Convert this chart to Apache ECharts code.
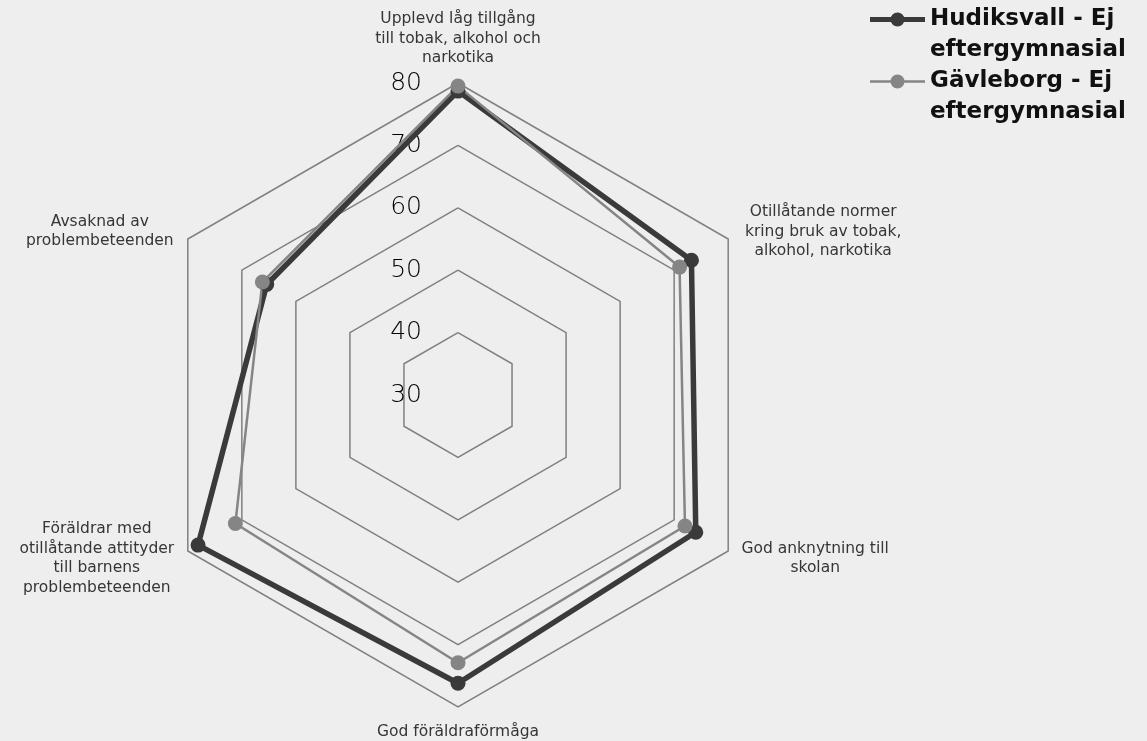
<!DOCTYPE html>
<html>
<head>
<meta charset="utf-8">
<script src="https://cdn.jsdelivr.net/npm/echarts@6/dist/echarts.min.js"></script>
<style>
html, body { margin: 0; padding: 0; background: #eeeeee; }
#radar { width: 1147px; height: 741px; }
</style>
</head>
<body>
<div id="radar"></div>
<script>
// categories, clockwise from the top (as in the picture)
const categories = [
    'Upplevd låg tillgång\ntill tobak, alkohol och\nnarkotika',
    'Otillåtande normer\nkring bruk av tobak,\nalkohol, narkotika',
    'God anknytning till\nskolan',
    'God föräldraförmåga',
    'Föräldrar med\notillåtande attityder\ntill barnens\nproblembeteenden',
    'Avsaknad av\nproblembeteenden'
];
const seriesNames = ['Hudiksvall - Ej eftergymnasial', 'Gävleborg - Ej eftergymnasial'];
const hudiksvall = [78.7, 73.2, 74.0, 76.2, 78.1, 65.4];
const gavleborg  = [79.5, 71.0, 72.0, 72.9, 71.2, 66.2];
const tickLabels = [30, 40, 50, 60, 70, 80];

// echarts lays out radar axes counterclockwise, the picture goes clockwise
const order = [0, 5, 4, 3, 2, 1];
const nameWidths = [0, 164, 148, 0, 156, 150];
const font = 'DejaVu Sans';

let rich = {};
let indicator = order.map(i => {
    let key = 'n' + i;
    rich[key] = {
        fontFamily: font,
        fontSize: 15.5,
        lineHeight: 19.5,
        color: '#363636',
        align: 'center'
    };
    if (nameWidths[i]) rich[key].width = nameWidths[i];
    let ind = {
        name: categories[i].split('\n').map(l => '{' + key + '|' + l + '}').join('\n'),
        min: tickLabels[0],
        max: tickLabels[tickLabels.length - 1]
    };
    if (i === 0) ind.axisLabel = {show: true};
    return ind;
});

// line with a dot in the middle, for the legend
function legendIcon(lineH) {
    let a = 7 - lineH / 2, b = 7 + lineH / 2;
    return 'path://M0,' + a + 'L21,' + a + 'L21,' + b + 'L0,' + b + 'Z' +
        'M34,' + a + 'L55,' + a + 'L55,' + b + 'L34,' + b + 'Z' +
        'M20.5,7A7,7 0 1,1 34.5,7A7,7 0 1,1 20.5,7Z';
}

window.radarChart = echarts.init(document.getElementById('radar'));

function legendFor(name, top, lineH) {
    return {
        data: [{name: name, icon: legendIcon(lineH)}],
        left: 870,
        top: top,
        itemWidth: 55,
        itemHeight: 14,
        itemGap: 0,
        padding: 0,
        // empty first line so the icon sits beside the first text line
        formatter: n => ' \n' + n.replace(' - Ej ', ' - Ej\n'),
        textStyle: {
            fontFamily: font,
            fontSize: 23,
            fontWeight: 'bold',
            color: '#111111',
            lineHeight: 31
        }
    };
}

window.radarChart.setOption({
    animation: false,
    backgroundColor: '#eeeeee',
    legend: [
        legendFor(seriesNames[0], -27, 5),
        legendFor(seriesNames[1], 35, 2.5)
    ],
    radar: {
        center: [458, 395],
        radius: 312,
        shape: 'polygon',
        splitNumber: tickLabels.length - 1,
        nameGap: 15,
        axisName: {
            fontFamily: font,
            fontSize: 15.5,
            color: '#363636',
            rich: rich
        },
        axisLine: {show: false},
        axisTick: {show: false},
        axisLabel: {
            show: false,
            margin: 36,
            fontFamily: font,
            fontSize: 25,
            fontWeight: 200,
            color: '#000000'
        },
        splitLine: {
            lineStyle: {color: '#808080', width: 1.5}
        },
        splitArea: {show: false},
        indicator: indicator
    },
    series: [
        {
            type: 'radar',
            symbol: 'circle',
            symbolSize: 15,
            data: [
                {
                    name: seriesNames[0],
                    value: order.map(i => hudiksvall[i]),
                    lineStyle: {color: '#3a3a3a', width: 5.5},
                    itemStyle: {color: '#3a3a3a'}
                },
                {
                    name: seriesNames[1],
                    value: order.map(i => gavleborg[i]),
                    lineStyle: {color: '#858585', width: 2.5},
                    itemStyle: {color: '#858585'}
                }
            ]
        }
    ]
});

window.addEventListener('resize', () => {
    window.radarChart.resize();
});
</script>
</body>
</html>
